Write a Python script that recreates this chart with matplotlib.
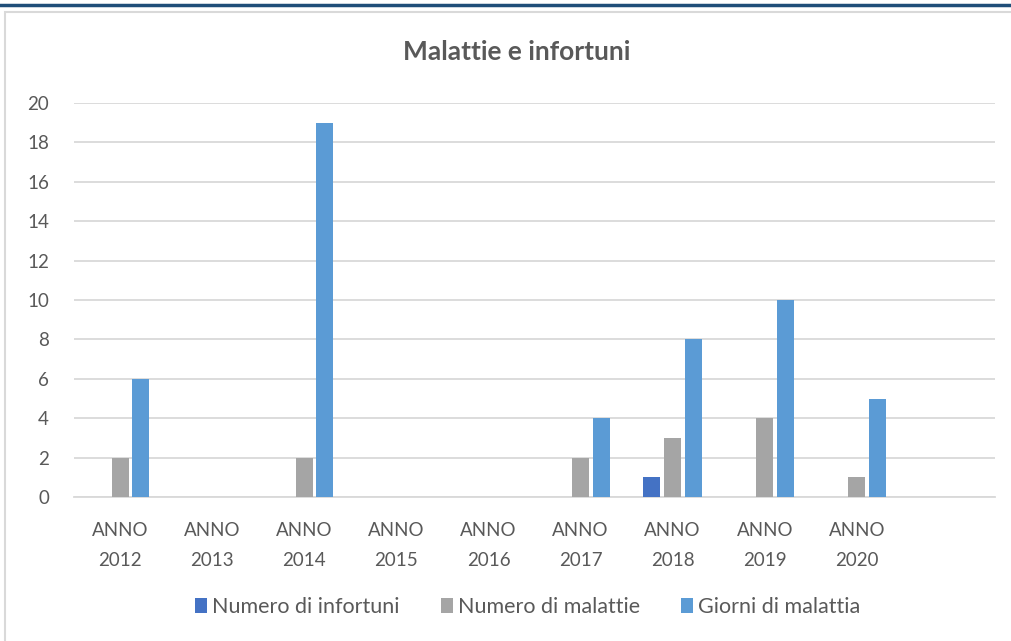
import matplotlib.pyplot as plt
import numpy as np
from matplotlib.patches import Rectangle
from matplotlib.lines import Line2D

plt.rcParams['font.family'] = ['Lato', 'DejaVu Sans']

categories = ['ANNO\n2012', 'ANNO\n2013', 'ANNO\n2014', 'ANNO\n2015', 'ANNO\n2016',
              'ANNO\n2017', 'ANNO\n2018', 'ANNO\n2019', 'ANNO\n2020', '']
infortuni = [0, 0, 0, 0, 0, 0, 1, 0, 0, 0]
malattie = [2, 0, 2, 0, 0, 2, 3, 4, 1, 0]
giorni = [6, 0, 19, 0, 0, 4, 8, 10, 5, 0]
series_names = ['Numero di infortuni', 'Numero di malattie', 'Giorni di malattia']
colors = ['#4472C4', '#A5A5A5', '#5B9BD5']
yticks = [0, 2, 4, 6, 8, 10, 12, 14, 16, 18, 20]

txt = '#595959'
fig = plt.figure(figsize=(10.11, 6.41), dpi=100)

# top dark line and chart frame
fig.add_artist(Line2D([0, 1], [1 - 5 / 641, 1 - 5 / 641], color='#1F4E79', lw=2.5,
                      transform=fig.transFigure))
fig.add_artist(Rectangle((5 / 1011, -0.05), 1.1, 1 - 12 / 641 + 0.05, fill=False,
                         edgecolor='#D9D9D9', lw=1.5, transform=fig.transFigure))

ax = fig.add_axes([74 / 1011, 1 - 497 / 641, (995 - 74) / 1011, (497 - 103) / 641])
x = np.arange(len(categories))
w = 0.185
step = 0.225
for i, (vals, name, c) in enumerate(zip([infortuni, malattie, giorni], series_names, colors)):
    ax.bar(x + (i - 1) * step, vals, width=w, color=c, label=name, zorder=3)

ax.set_xlim(-0.5, len(categories) - 0.5)
ax.set_ylim(0, 20)
ax.set_yticks(yticks)
ax.set_xticks(x)
ax.set_xticklabels(categories, linespacing=1.9)
ax.tick_params(axis='both', length=0, labelsize=13.5, colors=txt)
ax.tick_params(axis='x', pad=18)
ax.tick_params(axis='y', pad=18)
ax.grid(axis='y', color='#D9D9D9', lw=1.3, zorder=0)
for s in ['top', 'right', 'left']:
    ax.spines[s].set_visible(False)
ax.spines['bottom'].set_color('#D9D9D9')
ax.spines['bottom'].set_linewidth(1.3)

fig.text(0.511, 1 - 52 / 641, 'Malattie e infortuni', ha='center', va='center',
         fontsize=19, fontweight='bold', color=txt)

fig.legend(loc='center', bbox_to_anchor=(0.522, 1 - 607 / 641), ncol=3, frameon=False,
           fontsize=15.5, handlelength=0.55, handleheight=0.7, handletextpad=0.25,
           columnspacing=1.9, labelcolor=txt)

fig.savefig('out.png', dpi=100)
